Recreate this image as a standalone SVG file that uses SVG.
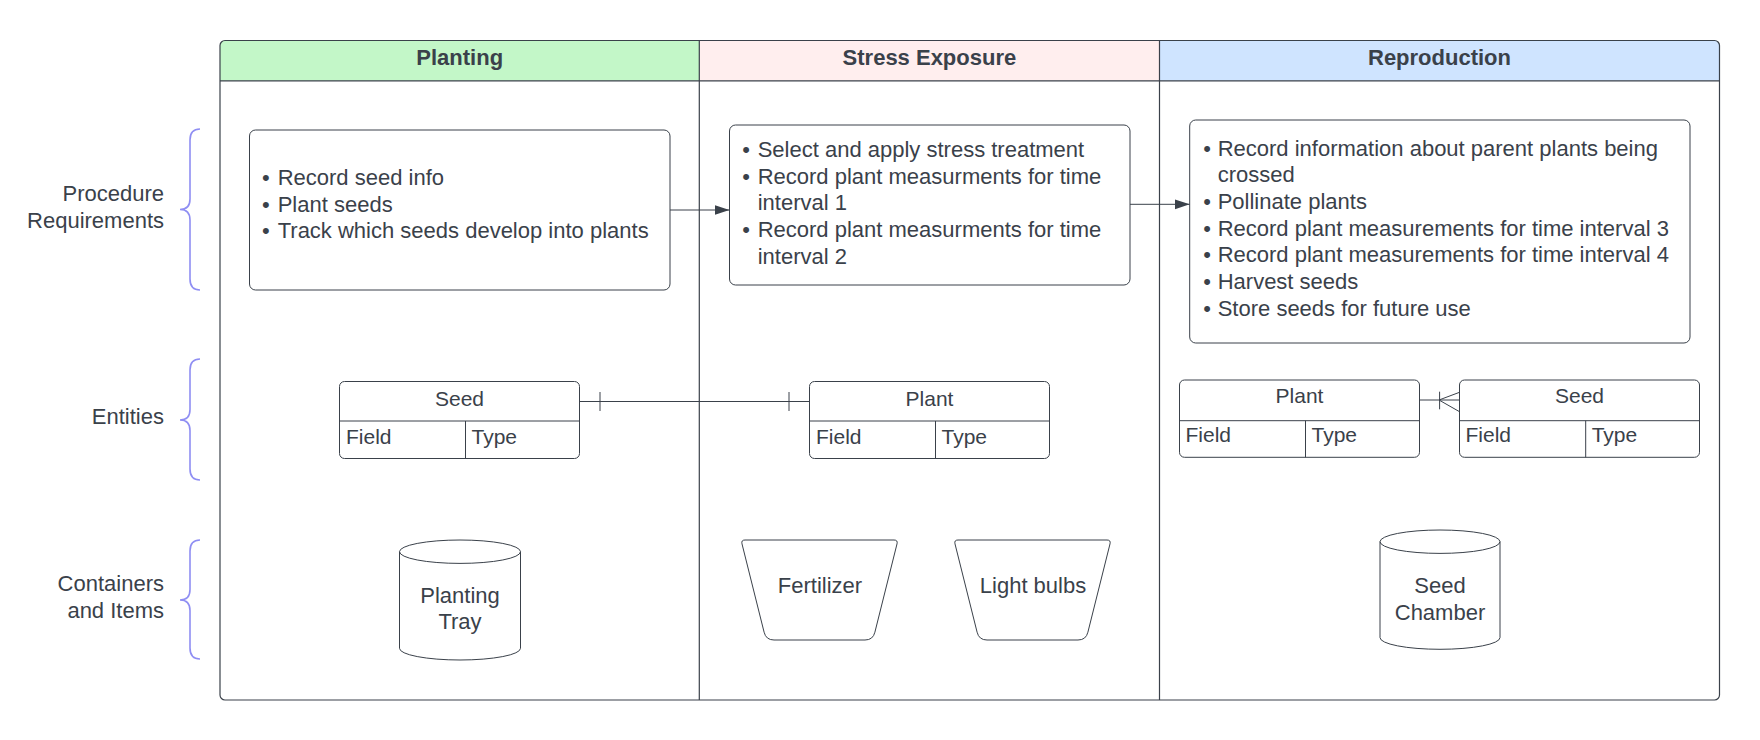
<svg xmlns="http://www.w3.org/2000/svg" width="1760" height="740" viewBox="0 0 1760 740">
<defs>
<style>
text{font-family:"Liberation Sans",Arial,sans-serif;fill:#3a414a;font-size:22px}
.hd{font-weight:bold;text-anchor:middle}
.lbl{text-anchor:end}
.c{text-anchor:middle}
.bul{text-anchor:middle}
.ent{font-size:21px}
.ln{fill:none;stroke:#3a414a;stroke-width:1.2}
.box{fill:#ffffff;stroke:#3a414a;stroke-width:1}
.brace{fill:none;stroke:#8f8ef3;stroke-width:1.6}
.conn{fill:none;stroke:#3a414a;stroke-width:1}
</style>
<marker id="arr" markerUnits="userSpaceOnUse" markerWidth="16" markerHeight="11" refX="15" refY="5" orient="auto">
<path d="M0,0 L15,5 L0,10 Z" fill="#3a414a"/>
</marker>
</defs>
<rect width="1760" height="740" fill="#ffffff"/>

<g id="lanes">
<path d="M220,80.8 L220,45.5 Q220,40.5 225,40.5 L699.3,40.5 L699.3,80.8 Z" fill="#c3f7c8"/>
<rect x="699.3" y="40.5" width="460.2" height="40.3" fill="#ffeeee"/>
<path d="M1159.5,40.5 L1714.5,40.5 Q1719.5,40.5 1719.5,45.5 L1719.5,80.8 L1159.5,80.8 Z" fill="#cfe4ff"/>
<rect class="ln" x="220" y="40.5" width="1499.5" height="659.5" rx="5"/>
<line class="ln" x1="220" y1="80.8" x2="1719.5" y2="80.8"/>
<line class="ln" x1="699.3" y1="40.5" x2="699.3" y2="700"/>
<line class="ln" x1="1159.5" y1="40.5" x2="1159.5" y2="700"/>
<text class="hd" x="459.7" y="65">Planting</text>
<text class="hd" x="929.4" y="65">Stress Exposure</text>
<text class="hd" x="1439.5" y="65">Reproduction</text>
</g>

<g id="row-labels">
<text class="lbl" x="164" y="200.5">Procedure</text>
<text class="lbl" x="164" y="228">Requirements</text>
<text class="lbl" x="164" y="423.5">Entities</text>
<text class="lbl" x="164" y="591">Containers</text>
<text class="lbl" x="164" y="617.5">and Items</text>
<path class="brace" d="M200,129 Q190,129 190,140 L190,199 Q190,209.5 180,209.5 Q190,209.5 190,220 L190,279 Q190,290 200,290"/>
<path class="brace" d="M200,359 Q190,359 190,370 L190,409.5 Q190,420 180,420 Q190,420 190,430.5 L190,469 Q190,480 200,480"/>
<path class="brace" d="M200,540 Q190,540 190,551 L190,589.5 Q190,600 180,600 Q190,600 190,610.5 L190,648 Q190,659 200,659"/>
</g>

<g id="req-planting">
<rect class="box" x="249.5" y="130" width="420.5" height="160" rx="6"/>
<text class="bul" x="265.8" y="185">•</text><text x="277.7" y="185">Record seed info</text>
<text class="bul" x="265.8" y="211.7">•</text><text x="277.7" y="211.7">Plant seeds</text>
<text class="bul" x="265.8" y="238.4">•</text><text x="277.7" y="238.4">Track which seeds develop into plants</text>
</g>

<g id="req-stress">
<rect class="box" x="729.5" y="125" width="400.5" height="160" rx="6"/>
<text class="bul" x="746" y="157">•</text><text x="757.7" y="157">Select and apply stress treatment</text>
<text class="bul" x="746" y="183.7">•</text><text x="757.7" y="183.7">Record plant measurments for time</text>
<text x="757.7" y="210.3">interval 1</text>
<text class="bul" x="746" y="237">•</text><text x="757.7" y="237">Record plant measurments for time</text>
<text x="757.7" y="263.7">interval 2</text>
</g>

<g id="req-reproduction">
<rect class="box" x="1189.7" y="120" width="500.3" height="223" rx="6"/>
<text class="bul" x="1207" y="155.5">•</text><text x="1217.7" y="155.5">Record information about parent plants being</text>
<text x="1217.7" y="182.2">crossed</text>
<text class="bul" x="1207" y="208.9">•</text><text x="1217.7" y="208.9">Pollinate plants</text>
<text class="bul" x="1207" y="235.5">•</text><text x="1217.7" y="235.5">Record plant measurements for time interval 3</text>
<text class="bul" x="1207" y="262.2">•</text><text x="1217.7" y="262.2">Record plant measurements for time interval 4</text>
<text class="bul" x="1207" y="288.9">•</text><text x="1217.7" y="288.9">Harvest seeds</text>
<text class="bul" x="1207" y="315.5">•</text><text x="1217.7" y="315.5">Store seeds for future use</text>
</g>

<g id="entity-seed-planting">
<rect class="box" x="339.5" y="381.5" width="240" height="77" rx="5"/>
<line class="conn" x1="339.5" y1="421" x2="579.5" y2="421"/>
<line class="conn" x1="465.5" y1="421" x2="465.5" y2="458.5"/>
<text class="c ent" x="459.5" y="405.5">Seed</text>
<text class="ent" x="346" y="443.5">Field</text>
<text class="ent" x="471.5" y="443.5">Type</text>
</g>

<g id="entity-plant-stress">
<rect class="box" x="809.5" y="381.5" width="240" height="77" rx="5"/>
<line class="conn" x1="809.5" y1="421" x2="1049.5" y2="421"/>
<line class="conn" x1="935.5" y1="421" x2="935.5" y2="458.5"/>
<text class="c ent" x="929.5" y="405.5">Plant</text>
<text class="ent" x="816" y="443.5">Field</text>
<text class="ent" x="941.5" y="443.5">Type</text>
</g>

<g id="entity-plant-reproduction">
<rect class="box" x="1179.5" y="380" width="240" height="77.3" rx="5"/>
<line class="conn" x1="1179.5" y1="420.7" x2="1419.5" y2="420.7"/>
<line class="conn" x1="1305.5" y1="420.7" x2="1305.5" y2="457.3"/>
<text class="c ent" x="1299.5" y="403">Plant</text>
<text class="ent" x="1185.5" y="442">Field</text>
<text class="ent" x="1311.5" y="442">Type</text>
</g>

<g id="entity-seed-reproduction">
<rect class="box" x="1459.5" y="380" width="240" height="77.3" rx="5"/>
<line class="conn" x1="1459.5" y1="420.7" x2="1699.5" y2="420.7"/>
<line class="conn" x1="1585.7" y1="420.7" x2="1585.7" y2="457.3"/>
<text class="c ent" x="1579.5" y="403">Seed</text>
<text class="ent" x="1465.5" y="442">Field</text>
<text class="ent" x="1591.7" y="442">Type</text>
</g>

<g id="planting-tray">
<path class="box" d="M399.5,551.7 A60.5,11.7 0 0 1 520.5,551.7 L520.5,648.3 A60.5,11.7 0 0 1 399.5,648.3 Z"/>
<path class="conn" d="M399.5,551.7 A60.5,11.7 0 0 0 520.5,551.7"/>
<text class="c" x="460" y="602.5">Planting</text>
<text class="c" x="460" y="629">Tray</text>
</g>

<g id="fertilizer">
<path class="box" d="M745,540 L894,540 Q898,540 897,543.9 L874.9,632.2 Q873,640 865,640 L774,640 Q766,640 764.1,632.2 L742,543.9 Q741,540 745,540 Z"/>
<text class="c" x="820" y="593">Fertilizer</text>
</g>

<g id="light-bulbs">
<path class="box" d="M958,540 L1107,540 Q1111,540 1110,543.9 L1087.9,632.2 Q1086,640 1078,640 L987,640 Q979,640 977.1,632.2 L955,543.9 Q954,540 958,540 Z"/>
<text class="c" x="1033" y="593">Light bulbs</text>
</g>

<g id="seed-chamber">
<path class="box" d="M1380,541.7 A60,11.7 0 0 1 1500,541.7 L1500,637.6 A60,11.7 0 0 1 1380,637.6 Z"/>
<path class="conn" d="M1380,541.7 A60,11.7 0 0 0 1500,541.7"/>
<text class="c" x="1440" y="592.5">Seed</text>
<text class="c" x="1440" y="619.5">Chamber</text>
</g>

<g id="connectors">
<path class="conn" d="M670,210 L729.5,210" marker-end="url(#arr)"/>
<path class="conn" d="M1130,204.3 L1189.7,204.3" marker-end="url(#arr)"/>
<path class="conn" d="M579.5,401.5 L809.5,401.5"/>
<path class="conn" d="M600,392 L600,411 M789,392 L789,411"/>
<path class="conn" d="M1419.5,400 L1459.5,400"/>
<path class="conn" d="M1439,400 L1459.5,392.3 M1439,400 L1459.5,411.7 M1439.6,391.7 L1439.6,409.3"/>
</g>
</svg>
